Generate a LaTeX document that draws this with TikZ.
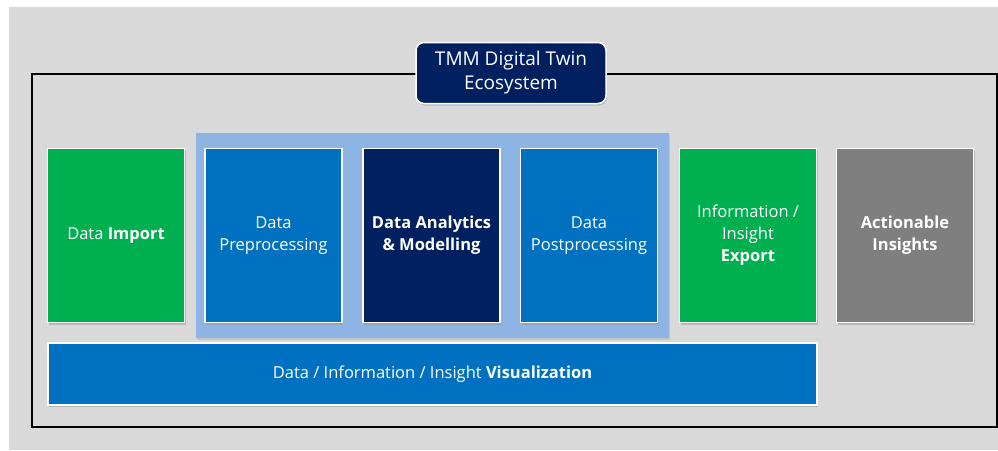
\documentclass[tikz,border=0pt]{standalone}
\usepackage{fontspec}
\setmainfont{Open Sans}
\usetikzlibrary{shadows}
\definecolor{bggray}{HTML}{D9D9D9}
\definecolor{tmmgreen}{HTML}{00B050}
\definecolor{tmmblue}{HTML}{0070C0}
\definecolor{tmmnavy}{HTML}{002060}
\definecolor{tmmgray}{HTML}{7F7F7F}
\definecolor{tmmband}{HTML}{8EB4E3}
\tikzset{
  block/.style={draw=white, line width=1.5pt, text=white, align=center,
    minimum width=137pt, minimum height=174pt, inner sep=2pt,
    font=\fontsize{16.5}{22}\selectfont,
    drop shadow={shadow xshift=1pt, shadow yshift=-2pt, fill=black!40, opacity=0.5}},
}
\begin{document}
\begin{tikzpicture}[x=1pt, y=-1pt]
   %
   \useasboundingbox (0,0) rectangle (998,450);
   \fill[white] (0,0) rectangle (998,450);
   \fill[bggray] (9,7) rectangle (998,450);
   %
   \draw[black, line width=1.5pt] (32,74) rectangle (997,427);
   %
   \fill[tmmband, drop shadow={shadow xshift=1pt, shadow yshift=-1.5pt, fill=black!30, opacity=0.5}]
        (196,133) rectangle (669,338);
   %
   \node[block, fill=tmmgreen] (import) at (116,235.5) {Data \textbf{Import}};
   \node[block, fill=tmmblue] (pre) at (273.5,235.5) {Data\\Preprocessing};
   \node[block, fill=tmmnavy] (model) at (431.5,235.5) {\textbf{Data Analytics}\\\textbf{\& Modelling}};
   \node[block, fill=tmmblue] (post) at (589,235.5) {Data\\Postprocessing};
   \node[block, fill=tmmgreen] (export) at (748,235.5) {Information /\\Insight\\\textbf{Export}};
   \node[block, fill=tmmgray] (action) at (905,235.5) {\textbf{Actionable}\\\textbf{Insights}};
   %
   \node[block, fill=tmmblue, minimum width=769pt, minimum height=62pt] (vis) at (432.5,374)
        {Data / Information / Insight \textbf{Visualization}};
   %
   \node[block, fill=tmmnavy, rounded corners=8pt, minimum width=190pt, minimum height=61pt,
         font=\fontsize{19}{24}\selectfont] (title) at (511,73) {TMM Digital Twin\\Ecosystem};
   %
\end{tikzpicture}
\end{document}
